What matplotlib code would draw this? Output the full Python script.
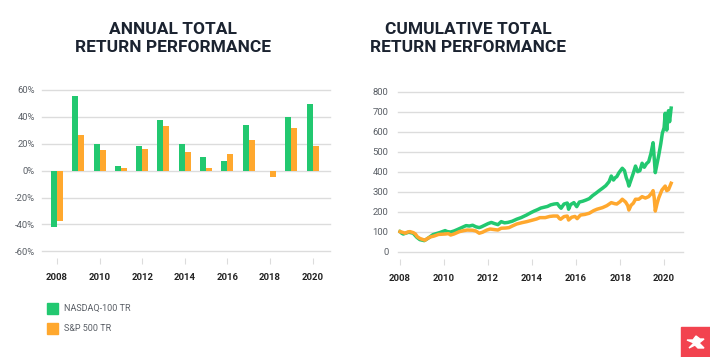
import matplotlib
matplotlib.use('Agg')
import matplotlib.pyplot as plt
from matplotlib.patches import Rectangle, Polygon
from matplotlib.ticker import FuncFormatter

plt.rcParams['font.family'] = ['Roboto', 'DejaVu Sans']

# Annual total returns (%)
years = [2008, 2009, 2010, 2011, 2012, 2013, 2014, 2015, 2016, 2017, 2018, 2019, 2020]
ndx_annual = [-41.7, 55.7, 19.9, 3.5, 18.4, 37.8, 19.9, 9.9, 7.2, 34.0, -0.1, 40.0, 49.7]
spx_annual = [-37.3, 26.6, 15.4, 2.0, 16.1, 33.3, 14.2, 2.0, 12.4, 22.9, -4.5, 31.8, 18.4]

# Cumulative total return, rebased to 100
ndx_t = [2008.00, 2008.08, 2008.15, 2008.25, 2008.40, 2008.60, 2008.76, 2008.90, 2009.10, 2009.25,
         2009.50, 2009.65, 2009.80, 2010.05, 2010.15, 2010.30, 2010.45, 2010.60, 2010.80, 2011.00,
         2011.15, 2011.30, 2011.45, 2011.60, 2011.70, 2011.85, 2012.00, 2012.15, 2012.30, 2012.45,
         2012.60, 2012.75, 2012.90, 2013.10, 2013.30, 2013.50, 2013.75, 2013.95, 2014.10, 2014.25,
         2014.40, 2014.55, 2014.70, 2014.85, 2015.00, 2015.15, 2015.25, 2015.32, 2015.45, 2015.60,
         2015.66, 2015.75, 2015.90, 2016.03, 2016.15, 2016.30, 2016.45, 2016.60, 2016.75, 2016.90,
         2017.05, 2017.20, 2017.35, 2017.50, 2017.60, 2017.70, 2017.78, 2017.85, 2017.95, 2018.10,
         2018.20, 2018.28, 2018.35, 2018.40, 2018.50, 2018.60, 2018.70, 2018.80, 2018.90, 2019.00,
         2019.10, 2019.20, 2019.30, 2019.40, 2019.50, 2019.55, 2019.60, 2019.68, 2019.75, 2019.85,
         2019.92, 2020.00, 2020.05, 2020.12, 2020.20, 2020.25, 2020.32]
ndx_v = [100, 92, 88, 92, 97, 92, 72, 60, 55, 65,
         85, 90, 95, 105, 100, 98, 103, 110, 120, 130,
         128, 132, 124, 120, 124, 132, 140, 146, 140, 135,
         150, 144, 146, 152, 162, 170, 183, 195, 203, 210,
         218, 222, 226, 234, 238, 240, 225, 217, 238, 243,
         212, 235, 245, 225, 248, 252, 258, 265, 280, 292,
         305, 317, 330, 350, 378, 358, 370, 375, 395, 417,
         405, 370, 350, 328, 360, 392, 428, 400, 405, 442,
         422, 440, 450, 490, 545, 470, 395, 440, 478, 540,
         592, 620, 692, 608, 705, 650, 718]

spx_t = [2008.00, 2008.10, 2008.23, 2008.35, 2008.45, 2008.60, 2008.70, 2008.78, 2008.90, 2009.05,
         2009.14, 2009.25, 2009.40, 2009.55, 2009.75, 2010.05, 2010.20, 2010.30, 2010.45, 2010.70,
         2010.90, 2011.05, 2011.30, 2011.45, 2011.60, 2011.75, 2011.95, 2012.10, 2012.30, 2012.45,
         2012.60, 2012.80, 2012.95, 2013.10, 2013.30, 2013.55, 2013.76, 2014.00, 2014.20, 2014.36,
         2014.60, 2014.80, 2014.97, 2015.15, 2015.25, 2015.30, 2015.45, 2015.60, 2015.66, 2015.80,
         2015.95, 2016.05, 2016.20, 2016.40, 2016.60, 2016.80, 2016.95, 2017.20, 2017.40, 2017.60,
         2017.75, 2017.85, 2018.00, 2018.10, 2018.25, 2018.35, 2018.40, 2018.50, 2018.60, 2018.70,
         2018.85, 2019.00, 2019.15, 2019.30, 2019.45, 2019.50, 2019.55, 2019.60, 2019.68, 2019.75,
         2019.90, 2020.05, 2020.12, 2020.20, 2020.32]
spx_v = [100, 97, 92, 98, 100, 95, 88, 75, 66, 60,
         57, 66, 74, 78, 86, 88, 90, 83, 88, 100,
         105, 108, 107, 103, 92, 97, 108, 113, 110, 108,
         117, 118, 120, 128, 138, 145, 150, 157, 163, 170,
         170, 176, 178, 178, 165, 162, 175, 178, 158, 172,
         176, 165, 183, 186, 192, 205, 212, 220, 230, 245,
         240, 238, 250, 262, 248, 230, 208, 232, 242, 262,
         262, 275, 268, 275, 295, 305, 270, 203, 240, 267,
         308, 328, 305, 310, 342]

labels = ['NASDAQ-100 TR', 'S&P 500 TR']
green = '#22c870'
orange = '#ffa82e'
grid_c = '#dcdcdc'
title_c = '#1b2330'

fig = plt.figure(figsize=(7.1, 3.57), dpi=100)

# --- left: annual bars ---
ax1 = fig.add_axes([0.0592, 0.2773, 0.4056, 0.4706])
w = 0.28
ax1.bar([y - w / 2 for y in years], ndx_annual, width=w, color=green, zorder=3)
ax1.bar([y + w / 2 for y in years], spx_annual, width=w, color=orange, zorder=3)
ax1.set_xlim(2007.3, 2020.82)
ax1.set_ylim(-65, 60)
ax1.set_yticks(range(-60, 61, 20))
ax1.yaxis.set_major_formatter(FuncFormatter(lambda v, p: f'{v:.0f}%'))
ax1.set_xticks(range(2008, 2021, 2))

# --- right: cumulative lines ---
ax2 = fig.add_axes([0.5606, 0.2745, 0.4014, 0.4686])
ax2.plot(ndx_t, ndx_v, color=green, lw=2.5, zorder=3, solid_joinstyle='round')
ax2.plot(spx_t, spx_v, color=orange, lw=2.5, zorder=4, solid_joinstyle='round')
ax2.set_xlim(2007.91, 2020.86)
ax2.set_ylim(-37, 800)
ax2.set_yticks(range(0, 801, 100))
ax2.set_xticks(range(2008, 2021, 2))

for ax in (ax1, ax2):
    for s in ax.spines.values():
        s.set_visible(False)
    ax.grid(axis='y', color=grid_c, lw=1, zorder=0)
    ax.set_axisbelow(True)
    ax.tick_params(axis='y', length=0, labelsize=6.8, labelcolor='#5a5f66')
    ax.tick_params(axis='x', length=4, width=0.8, color=grid_c, pad=7,
                   labelsize=6.8, labelcolor='#222222')
    for t in ax.get_xticklabels():
        t.set_fontweight('bold')
    for gl in ax.get_ygridlines():
        gl.set_clip_on(False)
ax1.tick_params(axis='y', pad=5)
ax2.tick_params(axis='y', pad=7)

# titles
fig.text(0.243, 0.893, 'ANNUAL TOTAL\nRETURN PERFORMANCE', ha='center', va='center',
         fontsize=12.5, fontweight='bold', color=title_c, linespacing=1.22)
fig.text(0.659, 0.893, 'CUMULATIVE TOTAL\nRETURN PERFORMANCE', ha='center', va='center',
         fontsize=12.5, fontweight='bold', color=title_c, linespacing=1.22)

# legend
for i, (lab, c) in enumerate(zip(labels, [green, orange])):
    ytop = 303 + i * 20
    fig.patches.append(Rectangle((47 / 710, 1 - (ytop + 11) / 357), 11 / 710, 11 / 357,
                                 transform=fig.transFigure, color=c))
    fig.text(64 / 710, 1 - (ytop + 5.5) / 357, lab, fontsize=6.5, color='#5a5f66', va='center')

# logo: red square with a white arrow-like X
fig.patches.append(Rectangle((681 / 710, 0), 29 / 710, 30 / 357,
                             transform=fig.transFigure, color='#f2434f'))
xs = [687, 693, 696, 700, 704, 699, 704, 698, 695, 689, 694]
ys = [340, 340, 336, 339, 339, 343, 348, 348, 345, 348, 343]
fig.patches.append(Polygon([(x / 710, 1 - y / 357) for x, y in zip(xs, ys)],
                           closed=True, transform=fig.transFigure, color='white'))

fig.savefig('out.png', dpi=100)
